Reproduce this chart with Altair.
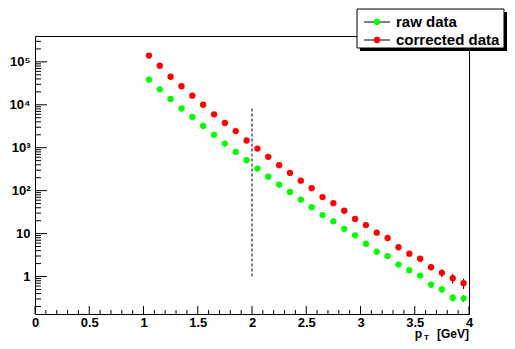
import altair as alt
import pandas as pd

# ---- data ----
pt = [1.05, 1.15, 1.25, 1.35, 1.45, 1.55, 1.65, 1.75, 1.85, 1.95,
      2.05, 2.15, 2.25, 2.35, 2.45, 2.55, 2.65, 2.75, 2.85, 2.95,
      3.05, 3.15, 3.25, 3.35, 3.45, 3.55, 3.65, 3.75, 3.85, 3.95]
raw = [3.85e4, 2.29e4, 1.37e4, 8.2e3, 5.2e3, 3.2e3, 2.0e3, 1.25e3, 800, 510,
       327, 212, 138, 93, 62, 41, 27, 19.3, 12.9, 9.1,
       5.8, 3.8, 3.0, 1.9, 1.4, 1.05, 0.65, 0.50, 0.32, 0.31]
raw_err = [300, 200, 130, 90, 60, 40, 28, 20, 14, 10,
           7, 5, 4, 3, 2.2, 1.6, 1.2, 0.9, 0.7, 0.55,
           0.4, 0.3, 0.26, 0.2, 0.16, 0.13, 0.1, 0.08, 0.06, 0.055]
corr = [1.4e5, 8.1e4, 4.5e4, 2.7e4, 1.63e4, 1.0e4, 6.0e3, 3.76e3, 2.44e3, 1.47e3,
        955, 612, 392, 259, 171, 114, 71, 51, 34, 22,
        15.8, 10.5, 7.9, 4.8, 3.4, 2.6, 1.65, 1.22, 0.91, 0.70]
corr_err = [1500, 900, 550, 350, 230, 150, 100, 70, 50, 35,
            25, 18, 13, 10, 7.5, 5.5, 4, 3.2, 2.5, 1.9,
            1.5, 1.1, 0.9, 0.6, 0.45, 0.35, 0.26, 0.25, 0.23, 0.19]
series_names = ["raw data", "corrected data"]
series_colors = ["#00ff00", "#ff0000"]

cut_x = [2.0]
cut_lo = [1.0]
cut_hi = [8600.0]

x_major = [0, 0.5, 1, 1.5, 2, 2.5, 3, 3.5, 4]
x_minor = [round(i * 0.1, 1) for i in range(41) if i % 5 != 0]
y_major = [1, 10, 100, 1000, 1e4, 1e5]
y_minor = [m * 10.0 ** e for e in range(-1, 6) for m in range(2, 10)
           if 0.134 < m * 10.0 ** e < 4.0e5]

Y_DOM = [0.134, 4.0e5]
W, H = 434, 278

rows = []
for i in range(len(pt)):
    rows.append({"pt": pt[i], "val": raw[i], "lo": raw[i] - raw_err[i],
                 "hi": raw[i] + raw_err[i], "series": series_names[0]})
    rows.append({"pt": pt[i], "val": corr[i], "lo": corr[i] - corr_err[i],
                 "hi": corr[i] + corr_err[i], "series": series_names[1]})
df = pd.DataFrame(rows)

xs = alt.Scale(domain=[0, 4], nice=False, zero=False)
ys = alt.Scale(type="log", domain=Y_DOM, nice=False)

FONT = "Liberation Sans"

x_axis = alt.Axis(values=x_major, ticks=False, domain=False, grid=False,
                  labelFont=FONT, labelFontWeight="bold", labelFontSize=13,
                  labelColor="black", labelPadding=2, title=None,
                  labelFlush=False, labelOverlap=False,
                  labelExpr="format(datum.value, '~g')")
y_axis = alt.Axis(values=y_major, ticks=False, domain=False, grid=False,
                  labelFont=FONT, labelFontWeight="bold", labelFontSize=13,
                  labelColor="black", labelPadding=5, title=None,
                  labelOverlap=False,
                  labelExpr="datum.value == 1 ? '1' : datum.value == 10 ? '10' : datum.value == 100 ? '10\u00b2' : datum.value == 1000 ? '10\u00b3' : datum.value == 10000 ? '10\u2074' : '10\u2075'")

base_axes = alt.Chart(pd.DataFrame({"pt": [0.0], "val": [1.0]})).mark_point(opacity=0).encode(
    x=alt.X("pt:Q", scale=xs, axis=x_axis),
    y=alt.Y("val:Q", scale=ys, axis=y_axis),
)

xt_major = alt.Chart(pd.DataFrame({"t": x_major})).mark_rule(color="black", strokeWidth=1).encode(
    x=alt.X("t:Q", scale=xs), y=alt.value(H), y2=alt.value(H - 8))
xt_minor = alt.Chart(pd.DataFrame({"t": x_minor})).mark_rule(color="black", strokeWidth=1).encode(
    x=alt.X("t:Q", scale=xs), y=alt.value(H), y2=alt.value(H - 4))
yt_major = alt.Chart(pd.DataFrame({"t": y_major})).mark_rule(color="black", strokeWidth=1).encode(
    y=alt.Y("t:Q", scale=ys), x=alt.value(0), x2=alt.value(12))
yt_minor = alt.Chart(pd.DataFrame({"t": y_minor})).mark_rule(color="black", strokeWidth=1).encode(
    y=alt.Y("t:Q", scale=ys), x=alt.value(0), x2=alt.value(6))

cut = alt.Chart(pd.DataFrame({"x": cut_x, "lo": cut_lo, "hi": cut_hi})).mark_rule(
    color="black", strokeWidth=1, strokeDash=[3, 2]).encode(
    x=alt.X("x:Q", scale=xs), y=alt.Y("lo:Q", scale=ys), y2="hi:Q")

errs = alt.Chart(df).mark_rule(color="black", strokeWidth=1).encode(
    x=alt.X("pt:Q", scale=xs), y=alt.Y("lo:Q", scale=ys), y2="hi:Q")

pts = alt.Chart(df).mark_point(filled=True, shape="circle", size=40, opacity=1).encode(
    x=alt.X("pt:Q", scale=xs),
    y=alt.Y("val:Q", scale=ys),
    color=alt.Color("series:N", scale=alt.Scale(domain=series_names, range=series_colors), legend=None),
)

# axis title p_T [GeV]
TY = H + 24
t_gev = alt.Chart(pd.DataFrame({"a": [0]})).mark_text(
    text="[GeV]", font=FONT, fontWeight="bold", fontSize=12, align="right", baseline="alphabetic", color="black"
).encode(x=alt.value(W), y=alt.value(TY))
t_p = alt.Chart(pd.DataFrame({"a": [0]})).mark_text(
    text="p", font=FONT, fontWeight="bold", fontSize=12, align="right", baseline="alphabetic", color="black"
).encode(x=alt.value(W - 47), y=alt.value(TY))
t_T = alt.Chart(pd.DataFrame({"a": [0]})).mark_text(
    text="T", font=FONT, fontWeight="bold", fontSize=8, align="left", baseline="alphabetic", color="black"
).encode(x=alt.value(W - 45), y=alt.value(TY + 2))

# legend box (ROOT style)
LX0, LX1, LY0, LY1 = 322, 469, -27, 12
shadow = alt.Chart(pd.DataFrame({"a": [0]})).mark_rect(color="black").encode(
    x=alt.value(LX0 + 3), x2=alt.value(LX1 + 3), y=alt.value(LY0 + 3), y2=alt.value(LY1 + 3))
box = alt.Chart(pd.DataFrame({"a": [0]})).mark_rect(fill="white", stroke="black", strokeWidth=1).encode(
    x=alt.value(LX0), x2=alt.value(LX1), y=alt.value(LY0), y2=alt.value(LY1))

leg_layers = [shadow, box]
row_y = [-14, 4]
for i, name in enumerate(series_names):
    leg_layers.append(alt.Chart(pd.DataFrame({"a": [0]})).mark_rule(color="black", strokeWidth=1).encode(
        x=alt.value(LX0 + 7), x2=alt.value(LX0 + 33), y=alt.value(row_y[i])))
    leg_layers.append(alt.Chart(pd.DataFrame({"a": [0]})).mark_point(
        filled=True, shape="circle", size=40, opacity=1, color=series_colors[i]).encode(
        x=alt.value(LX0 + 20), y=alt.value(row_y[i])))
    leg_layers.append(alt.Chart(pd.DataFrame({"a": [0]})).mark_text(
        text=name, font=FONT, fontWeight="bold", fontSize=15, align="left", baseline="middle", color="black"
    ).encode(x=alt.value(LX0 + 39), y=alt.value(row_y[i])))

chart = alt.layer(
    base_axes, xt_minor, xt_major, yt_minor, yt_major, cut, errs, pts,
    t_gev, t_p, t_T, *leg_layers
).properties(
    width=W, height=H,
    autosize=alt.AutoSizeParams(type="none"),
    padding={"left": 27, "top": 28, "right": 38, "bottom": 27},
    background="white",
).configure_view(stroke="black", strokeWidth=1)

chart.save("out.html", embed_options={"renderer": "svg", "actions": False})
